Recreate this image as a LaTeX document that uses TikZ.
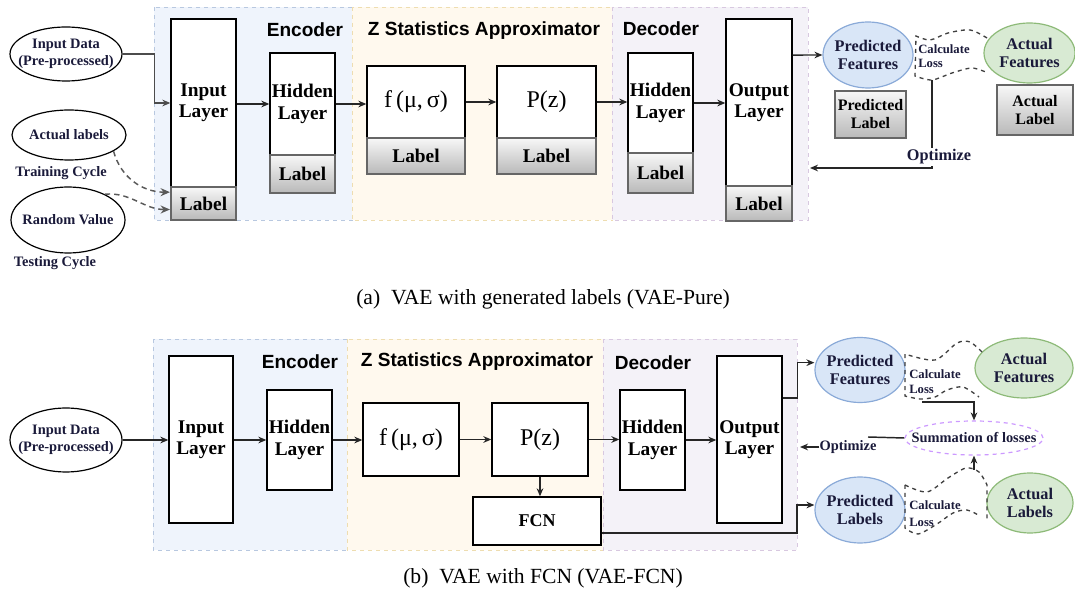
\documentclass[tikz,border=0pt]{standalone}
\usepackage{fontspec}
\setmainfont{Liberation Serif}
\setsansfont{Liberation Sans}
\usetikzlibrary{arrows.meta,shapes.geometric,calc}
\definecolor{encbg}{HTML}{EFF4FC}
\definecolor{encbd}{HTML}{B8C8E0}
\definecolor{zbg}{HTML}{FFF9EE}
\definecolor{zbd}{HTML}{EEDDB0}
\definecolor{decbg}{HTML}{F4F2F8}
\definecolor{decbd}{HTML}{D8C8E0}
\definecolor{predfill}{HTML}{D9E6F7}
\definecolor{predbd}{HTML}{8AAAD8}
\definecolor{actfill}{HTML}{D8EAD3}
\definecolor{actbd}{HTML}{8DBA78}
\definecolor{sumbd}{HTML}{CC99FF}
\definecolor{lablc}{HTML}{666666}
\definecolor{txtc}{HTML}{1A1A3A}
\begin{document}
\begin{tikzpicture}[x=0.75pt,y=-0.75pt,
  wh/.style 2 args={minimum width={#1*0.75pt},minimum height={#2*0.75pt}},
  layerbox/.style={draw=black,line width=1pt,fill=white,inner sep=0pt,align=center,
    font=\bfseries\fontsize{14.5}{16}\selectfont},
  fbox/.style={draw=black,line width=1pt,fill=white,inner sep=0pt,
    font=\fontsize{18}{20}\selectfont},
  labbox/.style={draw=lablc,line width=1.6pt,top color=gray!6,bottom color=gray!55,
    inner sep=0pt,align=center,font=\bfseries\fontsize{14.5}{16}\selectfont},
  slab/.style={labbox,font=\bfseries\fontsize{12}{13.5}\selectfont},
  ell/.style={ellipse,draw=black,line width=0.9pt,fill=white,inner sep=0pt},
  pell/.style={ellipse,draw=predbd,line width=0.9pt,fill=predfill,inner sep=0pt},
  aell/.style={ellipse,draw=actbd,line width=0.9pt,fill=actfill,inner sep=0pt},
  etext/.style={align=center,inner sep=0pt,text=txtc,font=\bfseries\fontsize{10.8}{12.5}\selectfont},
  mtext/.style={align=center,inner sep=0pt,text=txtc,font=\bfseries\fontsize{12.2}{14}\selectfont},
  ctext/.style={align=left,inner sep=0pt,text=txtc,font=\bfseries\fontsize{9.5}{11}\selectfont},
  titletext/.style={inner sep=0pt,font=\sffamily\bfseries\fontsize{14.3}{16}\selectfont},
  captext/.style={inner sep=0pt,font=\fontsize{16.2}{18}\selectfont},
  conn/.style={-{Stealth[length=6pt,width=5pt]},line width=1.1pt,draw=black!85},
  plainline/.style={line width=1.1pt,draw=black!85},
  dconn/.style={-{Stealth[length=7pt,width=6pt]},line width=1.1pt,draw=black!65,dash pattern=on 4pt off 3pt},
  cloudline/.style={line width=1pt,draw=black!75,dash pattern=on 3pt off 3pt}
]
\useasboundingbox (0,0) rectangle (1075,591);

% ---------------- panel (a) backgrounds ----------------
\path[fill=encbg,draw=encbd,dashed,line width=0.6pt] (154,7) rectangle (352,220);
\path[fill=zbg,draw=zbd,dashed,line width=0.6pt] (352,7) rectangle (612,220);
\path[fill=decbg,draw=decbd,dashed,line width=0.6pt] (612,7) rectangle (808,220);
\node[titletext] (encA) at (305,30) {Encoder};
\node[titletext] (zA) at (484,31) {Z Statistics Approximator};
\node[titletext] (decA) at (661,29) {Decoder};

% layers (a)
\node[layerbox,wh={65}{168}] (inL) at (203.5,103) {Input\\Layer};
\node[labbox,wh={65}{33}] (inLab) at (203.5,203.5) {Label};
\node[layerbox,wh={65}{102}] (hidE) at (302.5,104) {Hidden\\Layer};
\node[labbox,wh={65}{38}] (hidELab) at (302.5,174) {Label};
\node[fbox,wh={98}{72}] (fA) at (416,102) {f\,(μ,\,σ)};
\node[labbox,wh={98}{36}] (fALab) at (416,156) {Label};
\node[fbox,wh={99}{72}] (pA) at (546.5,102) {P(z)};
\node[labbox,wh={99}{36}] (pALab) at (546.5,156) {Label};
\node[layerbox,wh={65}{100}] (hidD) at (660.5,103) {Hidden\\Layer};
\node[labbox,wh={65}{40}] (hidDLab) at (660.5,173) {Label};
\node[layerbox,wh={66}{167}] (outA) at (759,102.5) {Output\\Layer};
\node[labbox,wh={66}{35}] (outALab) at (759,203.5) {Label};

% left ellipses (a)
\node[ell,wh={112}{54}] (inData) at (66,54) {};
\node[etext] (inDataT) at (inData) {Input Data\\(Pre-processed)};
\node[ell,wh={114}{50}] (actLab) at (69,135) {};
\node[etext] (actLabT) at (actLab) {Actual labels};
\node[etext] (trainT) at (61,173) {Training Cycle};
\node[ell,wh={114}{66}] (randVal) at (68,220) {};
\node[etext] (randValT) at (randVal) {Random Value};
\node[etext] (testT) at (55,263) {Testing Cycle};

% right side (a)
\node[pell,wh={90}{66}] (predF) at (868,55) {};
\node[mtext] (predFT) at (predF) {Predicted\\Features};
\node[aell,wh={91}{60}] (actF) at (1029.5,53) {};
\node[mtext] (actFT) at (actF) {Actual\\Features};
\node[slab,wh={71}{47}] (predLabA) at (870.5,114.5) {Predicted\\Label};
\node[slab,wh={76}{50}] (actLabA) at (1035,110) {Actual\\Label};

\draw[cloudline] plot[smooth] coordinates {(987,38) (970,30) (948,33) (930,40) (916,36)}
  -- (915,76) -- plot[smooth] coordinates {(915,76) (932,80) (952,73) (972,68) (988,73)};
\node[ctext,anchor=west] (calcA) at (918,49) {Calculate};
\node[ctext,anchor=west] (lossA) at (918,63.5) {Loss};

% connectors (a)
\draw[conn,draw=black!70] (inData.east) -- ++(32,0) |- (inL.west);
\draw[conn] (inL.east |- hidE.west) -- (hidE.west);
\draw[conn] (hidE.east) -- (hidE.east -| fA.west);
\draw[conn] (fA.east) -- (pA.west);
\draw[conn] (pA.east) -- (pA.east -| hidD.west);
\draw[conn] (hidD.east) -- (hidD.east -| outA.west);
\draw[conn] ([yshift=35.6pt]outA.east) -- (predF.west);
\draw[dconn] (actLab.-20) to[out=-75,in=180] ([yshift=8.5pt]inLab.west);
\draw[dconn] (randVal.35) to[out=5,in=180] ([yshift=-4.5pt]inLab.west);
\coordinate (optAs) at (932,80);
\coordinate (optAe) at (810,168);
\draw[conn] (optAs) |- (optAe);
\node[mtext,fill=white,inner sep=1pt] (optA) at (939,157) {Optimize};

\node[captext] (capA) at (543,299) {(a)\ \ VAE with generated labels (VAE-Pure)};

% ---------------- panel (b) backgrounds ----------------
\path[fill=encbg,draw=encbd,dashed,line width=0.6pt] (153,339) rectangle (347,550);
\path[fill=zbg,draw=zbd,dashed,line width=0.6pt] (347,339) rectangle (603,550);
\path[fill=decbg,draw=decbd,dashed,line width=0.6pt] (603,339) rectangle (797,550);
\node[titletext] (encB) at (300,362) {Encoder};
\node[titletext] (zB) at (477,362) {Z Statistics Approximator};
\node[titletext] (decB) at (653,363) {Decoder};

\node[ell,wh={112}{64}] (inDataB) at (66,440) {};
\node[etext] (inDataBT) at (inDataB) {Input Data\\(Pre-processed)};
\node[layerbox,wh={64}{167}] (inLB) at (201,439.5) {Input\\Layer};
\node[layerbox,wh={65}{100}] (hidEB) at (299.5,440) {Hidden\\Layer};
\node[fbox,wh={96}{73}] (fB) at (411,439.5) {f\,(μ,\,σ)};
\node[fbox,wh={96}{73}] (pB) at (540,439.5) {P(z)};
\node[layerbox,wh={128}{48},font=\bfseries\fontsize{13.5}{15}\selectfont] (fcn) at (537,521) {FCN};
\node[layerbox,wh={65}{100}] (hidDB) at (652.5,440) {Hidden\\Layer};
\node[layerbox,wh={65}{167}] (outB) at (749.5,439.5) {Output\\Layer};

\node[pell,wh={90}{65}] (predFB) at (860,370) {};
\node[mtext] (predFBT) at (predFB) {Predicted\\Features};
\node[aell,wh={98}{60}] (actFB) at (1024,368) {};
\node[mtext] (actFBT) at (actFB) {Actual\\Features};
\node[pell,wh={90}{66}] (predLB) at (860,510) {};
\node[mtext] (predLBT) at (predLB) {Predicted\\Labels};
\node[aell,wh={86}{60}] (actLB) at (1030,503) {};
\node[mtext] (actLBT) at (actLB) {Actual\\Labels};
\node[ellipse,draw=sumbd,dashed,line width=0.9pt,fill=white,inner sep=0pt,wh={138}{34}] (sum) at (974,438) {};
\node[etext] (sumT) at (sum) {Summation of losses};

\draw[cloudline] plot[smooth] coordinates {(982,352) (970,342) (957,343) (935,360) (905,354)}
  -- (905,396) -- plot[smooth] coordinates {(905,396) (920,399) (935,397) (947,390) (963,387) (979,397)};
\node[ctext,anchor=west] (calcB1) at (909,374) {Calculate};
\node[ctext,anchor=west] (lossB1) at (909,389) {Loss};
\draw[cloudline] plot[smooth] coordinates {(905,485) (927,492) (948,478) (966,468) (979,472) (987,485)}
  -- (987,522);
\draw[cloudline] (905,485) -- (905,528) -- plot[smooth] coordinates {(905,528) (918,534) (937,524) (953,513) (967,510) (980,516)};
\node[ctext,anchor=west] (calcB2) at (909,505) {Calculate};
\node[ctext,anchor=west] (lossB2) at (909,522) {Loss};

% connectors (b)
\draw[conn] (inDataB.east) -- (inDataB.east -| inLB.west);
\draw[conn] (inLB.east |- hidEB.west) -- (hidEB.west);
\draw[conn] (hidEB.east) -- (hidEB.east -| fB.west);
\draw[conn] (fB.east) -- (pB.west);
\draw[conn] (pB.east) -- (pB.east -| hidDB.west);
\draw[conn] (hidDB.east) -- (hidDB.east -| outB.west);
\draw[conn] (pB.south) -- (pB.south |- fcn.north);
\draw[conn] ([yshift=31pt]outB.east) -- ++(15,0) |- ([yshift=5.5pt]predFB.west);
\draw[conn] ([yshift=-9pt]fcn.east) -- (797,533) |- ([yshift=3.75pt]predLB.west);
\coordinate (c1) at (922,402);
\draw[conn] (c1) -| (sum.north);
\coordinate (c2) at (974,470);
\draw[conn] (c2) -- (sum.south);
\coordinate (ob) at (868,437);
\draw[plainline] (sum.west) -- (ob);
\node[etext] (optB) at (848,447) {Optimize};
\coordinate (optBe) at (800,447);
\draw[conn] (optB.west) -- (optBe);

\node[captext] (capB) at (543,578) {(b)\ \ VAE with FCN (VAE-FCN)};
\end{tikzpicture}
\end{document}
